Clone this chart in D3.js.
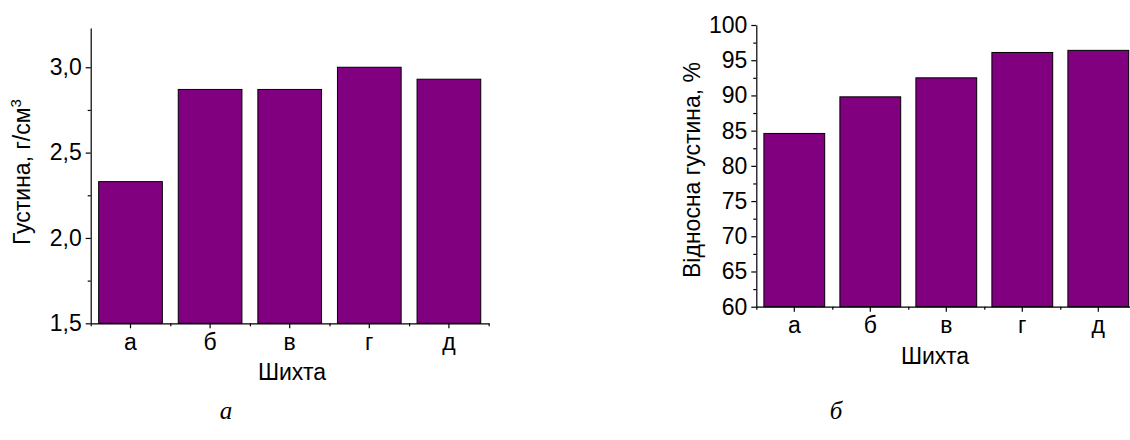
<!DOCTYPE html>
<html>
<head>
<meta charset="utf-8">
<script src="https://cdn.jsdelivr.net/npm/d3@7"></script>
<style>
  html, body { margin: 0; padding: 0; background: #fff; }
  svg { display: block; }
  .axis text { font-family: "Liberation Sans", Arial, sans-serif; font-size: 23px; fill: #000; }
  .axis path, .axis line { stroke: #000; stroke-width: 1.2; }
  .title { font-family: "Liberation Sans", Arial, sans-serif; font-size: 23px; fill: #000; }
  .caption { font-family: "Liberation Serif", "Times New Roman", serif; font-style: italic; font-size: 25px; fill: #000; }
</style>
</head>
<body>
<svg id="chart" width="1130" height="440"></svg>
<script>
// Mixtures (шихта)
const categories = ["а", "б", "в", "г", "д"];

// Panel а: density, g/cm³
const density = [2.33, 2.87, 2.87, 3.00, 2.93];
const densityTicks = [1.5, 2.0, 2.5, 3.0];
const densityMinorTicks = [1.75, 2.25, 2.75];

// Panel б: relative density, %
const relDensity = [84.6, 89.8, 92.5, 96.1, 96.4];
const relTicks = [60, 65, 70, 75, 80, 85, 90, 95, 100];
const relMinorTicks = [62.5, 67.5, 72.5, 77.5, 82.5, 87.5, 92.5, 97.5];

const svg = d3.select("#chart");
const barFill = "#800080";

function panel(opts) {
  const g = svg.append("g");
  const x = d3.scaleBand().domain(categories).range([opts.x0, opts.x1])
    .paddingInner(0.2).paddingOuter(0.1);
  const y = d3.scaleLinear().domain(opts.yDomain).range([opts.yBottom, opts.yTop]);

  // bars
  g.selectAll("rect.bar").data(opts.values).join("rect")
    .attr("class", "bar")
    .attr("x", (d, i) => x(categories[i]))
    .attr("y", d => y(d))
    .attr("width", x.bandwidth())
    .attr("height", d => y(opts.yDomain[0]) - y(d))
    .attr("fill", barFill)
    .attr("stroke", "#000")
    .attr("stroke-width", 1);

  // x axis: labelled ticks at the category centres
  g.append("g").attr("class", "axis")
    .attr("transform", `translate(0,${opts.yBottom})`)
    .call(d3.axisBottom(x).tickSize(5).tickSizeOuter(0).tickPadding(5))
    .call(s => s.selectAll("text").attr("dy", "0.72em"));

  // x axis: short ticks at the category boundaries
  const edges = d3.scaleLinear().domain([0, categories.length]).range([opts.x0, opts.x1]);
  g.append("g").attr("class", "axis")
    .attr("transform", `translate(0,${opts.yBottom})`)
    .call(d3.axisBottom(edges).tickValues(d3.range(categories.length + 1)).tickSize(3).tickFormat(""))
    .call(s => s.select(".domain").remove());

  // y axis
  g.append("g").attr("class", "axis")
    .attr("transform", `translate(${opts.x0},0)`)
    .call(d3.axisLeft(y).tickValues(opts.ticks).tickFormat(opts.fmt)
      .tickSize(5).tickSizeOuter(0).tickPadding(4));

  g.append("g").attr("class", "axis")
    .attr("transform", `translate(${opts.x0},0)`)
    .call(d3.axisLeft(y).tickValues(opts.minor).tickSize(3).tickFormat(""))
    .call(s => s.select(".domain").remove());

  // x title
  g.append("text").attr("class", "title")
    .attr("x", opts.xTitleX).attr("y", opts.yBottom + 57)
    .attr("text-anchor", "middle")
    .text("Шихта");

  return { g, x, y };
}

const fmtComma = d => d3.format(".1f")(d).replace(".", ",");

const left = panel({
  x0: 90.7, x1: 488.7, yBottom: 323.3, yTop: 28,
  yDomain: [1.5, 3.23], values: density,
  ticks: densityTicks, minor: densityMinorTicks, fmt: fmtComma,
  xTitleX: 292
});

left.g.append("text").attr("class", "title")
  .attr("transform", "translate(30,172) rotate(-90)")
  .attr("text-anchor", "middle")
  .call(t => {
    t.append("tspan").text("Густина, г/см");
    t.append("tspan").attr("dy", "-0.6em").attr("font-size", "15px").text("3");
  });

const right = panel({
  x0: 756.3, x1: 1136.3, yBottom: 306.7, yTop: 25,
  yDomain: [60, 100], values: relDensity,
  ticks: relTicks, minor: relMinorTicks, fmt: d3.format("d"),
  xTitleX: 935
});

right.g.append("text").attr("class", "title")
  .attr("transform", "translate(700,170) rotate(-90)")
  .attr("text-anchor", "middle")
  .text("Відносна густина, %");

// panel captions
svg.append("text").attr("class", "caption").attr("x", 226).attr("y", 419)
  .attr("text-anchor", "middle").text("а");
svg.append("text").attr("class", "caption").attr("x", 836).attr("y", 419)
  .attr("text-anchor", "middle").text("б");
</script>
</body>
</html>
